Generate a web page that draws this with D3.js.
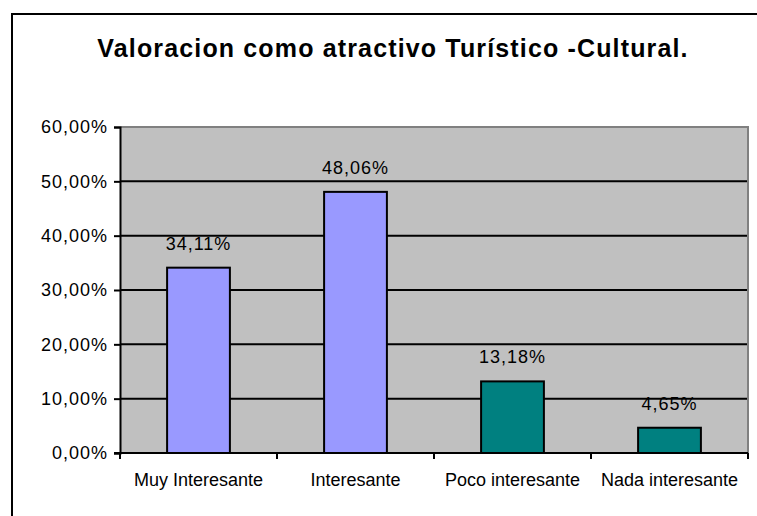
<!DOCTYPE html>
<html>
<head>
<meta charset="utf-8">
<script src="https://cdn.jsdelivr.net/npm/d3@7"></script>
<style>
  body { margin: 0; background: #fff; }
  text { font-family: Arial, "Liberation Sans", sans-serif; fill: #000; }
</style>
</head>
<body>
<div id="chart"></div>
<script>
// Chart data
const categories = ['Muy Interesante', 'Interesante', 'Poco interesante', 'Nada interesante'];
const values = [34.11, 48.06, 13.18, 4.65];
const barColors = ['#9999FF', '#9999FF', '#008080', '#008080'];
const yTicks = [0, 10, 20, 30, 40, 50, 60];
const title = 'Valoracion como atractivo Turístico -Cultural.';

const width = 757;
const height = 516;
const plot = { left: 120, right: 748, top: 127, bottom: 453 };

const fmt = d => d.toFixed(2).replace('.', ',') + '%';

const svg = d3.select('#chart')
  .append('svg')
  .attr('width', width)
  .attr('height', height);

// Outer chart border (runs off the right and bottom edge)
svg.append('rect')
  .attr('x', 12).attr('y', 14)
  .attr('width', 780).attr('height', 520)
  .attr('fill', '#fff')
  .attr('stroke', '#000')
  .attr('stroke-width', 2);

// Title
svg.append('text')
  .attr('x', 393).attr('y', 57)
  .attr('text-anchor', 'middle')
  .attr('font-size', 25)
  .attr('font-weight', 'bold')
  .attr('letter-spacing', 1.15)
  .text(title);

// Scales
const x = d3.scaleBand()
  .domain(categories)
  .range([plot.left, plot.right])
  .paddingInner(0.6)
  .paddingOuter(0.3);

const y = d3.scaleLinear()
  .domain([0, 60])
  .range([plot.bottom, plot.top]);

// Plot background
svg.append('rect')
  .attr('x', plot.left).attr('y', plot.top)
  .attr('width', plot.right - plot.left)
  .attr('height', plot.bottom - plot.top)
  .attr('fill', '#C0C0C0');

// Grid lines
svg.append('g')
  .selectAll('line')
  .data(yTicks.filter(d => d > 0 && d < 60))
  .join('line')
  .attr('x1', plot.left).attr('x2', plot.right)
  .attr('y1', d => y(d)).attr('y2', d => y(d))
  .attr('stroke', '#000')
  .attr('stroke-width', 2);

// Gray frame top and right
svg.append('path')
  .attr('d', `M${plot.left},${y(60)}H${plot.right}V${plot.bottom}`)
  .attr('fill', 'none')
  .attr('stroke', '#808080')
  .attr('stroke-width', 2);

// Bars
svg.append('g')
  .selectAll('rect')
  .data(values)
  .join('rect')
  .attr('x', (d, i) => x(categories[i]))
  .attr('y', d => y(d))
  .attr('width', x.bandwidth())
  .attr('height', d => y(0) - y(d))
  .attr('fill', (d, i) => barColors[i])
  .attr('stroke', '#000')
  .attr('stroke-width', 2);

// Value labels
svg.append('g')
  .selectAll('text')
  .data(values)
  .join('text')
  .attr('x', (d, i) => x(categories[i]) + x.bandwidth() / 2)
  .attr('y', d => y(d) - 18)
  .attr('text-anchor', 'middle')
  .attr('font-size', 18)
  .attr('letter-spacing', 1)
  .attr('fill', '#111')
  .text(d => fmt(d));

// Y axis
const yAxis = svg.append('g')
  .attr('transform', `translate(${plot.left},0)`)
  .call(d3.axisLeft(y).tickValues(yTicks).tickFormat(fmt).tickSize(6).tickPadding(6));
yAxis.select('.domain').attr('stroke', '#000').attr('stroke-width', 2);
yAxis.selectAll('.tick line').attr('stroke', '#000').attr('stroke-width', 2);
yAxis.selectAll('.tick text')
  .attr('font-size', 18)
  .attr('letter-spacing', 1)
  .attr('font-family', 'Arial, "Liberation Sans", sans-serif')
  .attr('fill', '#111');

// X axis: line, ticks at category boundaries, labels at centres
const boundaries = categories.map(c => x(c) - x.step() * x.paddingOuter()).concat([plot.right]);
const xAxis = svg.append('g');
xAxis.append('line')
  .attr('x1', plot.left - 6).attr('x2', plot.right)
  .attr('y1', plot.bottom).attr('y2', plot.bottom)
  .attr('stroke', '#000')
  .attr('stroke-width', 2);
xAxis.selectAll('line.tick')
  .data(boundaries)
  .join('line')
  .attr('class', 'tick')
  .attr('x1', d => d).attr('x2', d => d)
  .attr('y1', plot.bottom).attr('y2', plot.bottom + 6)
  .attr('stroke', '#000')
  .attr('stroke-width', 2);
xAxis.selectAll('text')
  .data(categories)
  .join('text')
  .attr('x', d => x(d) + x.bandwidth() / 2)
  .attr('y', 486)
  .attr('text-anchor', 'middle')
  .attr('font-size', 18)
  .attr('fill', '#111')
  .text(d => d);
</script>
</body>
</html>
